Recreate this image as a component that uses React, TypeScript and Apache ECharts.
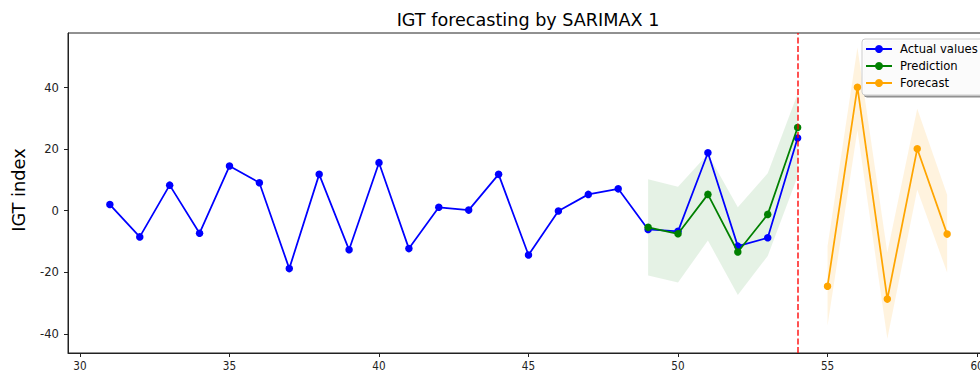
import { useEffect, useRef } from "react";
import * as echarts from "echarts";

// ---- data ----
const xActual = [31, 32, 33, 34, 35, 36, 37, 38, 39, 40, 41, 42, 43, 44, 45, 46, 47, 48, 49, 50, 51, 52, 53, 54];
const actualValues = [2.0, -8.5, 8.3, -7.3, 14.5, 9.1, -18.8, 11.8, -12.7, 15.6, -12.3, 1.1, 0.2, 11.8, -14.4, -0.1, 5.3, 7.1, -6.1, -6.7, 18.8, -11.5, -8.8, 23.6];

const xPred = [49, 50, 51, 52, 53, 54];
const predValues = [-5.4, -7.5, 5.3, -13.4, -1.2, 27.0];
const predLower = [-21.0, -23.3, -9.7, -27.4, -14.7, 11.1];
const predUpper = [10.2, 7.8, 18.4, 1.1, 12.2, 38.0];

const xForecast = [55, 56, 57, 58, 59];
const forecastValues = [-24.5, 40.1, -28.7, 20.1, -7.6];
const forecastLower = [-37.3, 26.1, -41.6, 6.8, -20.1];
const forecastUpper = [-11.5, 53.0, -13.6, 33.1, 5.2];

const xTicks = [30, 35, 40, 45, 50, 55, 60];
const yTicks = [-40, -20, 0, 20, 40];

const FONT = "DejaVu Sans";

function bandSeries(xs: number[], lo: number[], hi: number[], color: string) {
  return {
    type: "custom",
    silent: true,
    clip: true,
    z: 1,
    data: xs.map((x, i) => [x, lo[i], hi[i]]),
    encode: { x: 0, y: [1, 2] },
    renderItem: (params: any, api: any) => {
      if (params.dataIndex !== 0) return null;
      const upper = xs.map((x, i) => api.coord([x, hi[i]]));
      const lower = xs.map((x, i) => api.coord([x, lo[i]])).reverse();
      return {
        type: "polygon",
        shape: { points: [...upper, ...lower] },
        style: { fill: color },
      };
    },
  };
}

function lineSeries(name: string, xs: number[], ys: number[], color: string, z: number) {
  return {
    name,
    type: "line",
    z,
    data: xs.map((x, i) => [x, ys[i]]),
    symbol: "circle",
    symbolSize: 7.5,
    showSymbol: true,
    lineStyle: { color, width: 1.75 },
    itemStyle: { color },
    emphasis: { disabled: true },
  };
}

export default function App() {
  const ref = useRef<HTMLDivElement>(null);
  useEffect(() => {
    document.body.style.margin = "0";
    const chart = echarts.init(ref.current!, null, { renderer: "svg" });
    const actual = lineSeries("Actual values", xActual, actualValues, "#0000ff", 3) as any;
    actual.markLine = {
      silent: true,
      symbol: ["none", "none"],
      label: { show: false },
      lineStyle: { color: "#ff0000", type: [6, 2.6], width: 1.6, opacity: 0.85 },
      data: [{ xAxis: xActual[xActual.length - 1] }],
      z: 10,
    };
    const option: any = {
      animation: false,
      textStyle: { fontFamily: FONT },
      grid: {
        left: 68,
        top: 33,
        right: -9,
        bottom: 21,
        outerBoundsMode: "none",
        containLabel: false,
        show: true,
        borderColor: "#222",
        borderWidth: 1,
        backgroundColor: "transparent",
      },
      graphic: [
        {
          type: "text",
          x: 528,
          y: 19.5,
          style: {
            text: "IGT forecasting by SARIMAX 1",
            font: `17.6px "${FONT}"`,
            fill: "#000",
            textAlign: "center",
            textVerticalAlign: "middle",
          },
        },
        {
          type: "text",
          x: 18.7,
          y: 190,
          rotation: Math.PI / 2,
          style: {
            text: "IGT index",
            font: `17.8px "${FONT}"`,
            fill: "#000",
            textAlign: "center",
            textVerticalAlign: "middle",
          },
        },
      ],
      xAxis: {
        type: "value",
        min: 29.6,
        max: 60.4,
        axisLine: { show: true, onZero: false, lineStyle: { color: "#222" } },
        axisTick: { show: true, length: 4, customValues: xTicks, lineStyle: { color: "#222" } },
        axisLabel: {
          customValues: xTicks,
          margin: 7,
          fontSize: 11.6,
          color: "#222",
          fontFamily: "DejaVu Sans Condensed, DejaVu Sans",
        },
        splitLine: { show: false },
      },
      yAxis: {
        type: "value",
        min: -46.2,
        max: 57.7,
        axisLine: { show: true, onZero: false, lineStyle: { color: "#222" } },
        axisTick: { show: true, length: 4, customValues: yTicks, lineStyle: { color: "#222" } },
        axisLabel: { customValues: yTicks, margin: 9, fontSize: 11.6, color: "#222", fontFamily: FONT },
        splitLine: { show: false },
      },
      legend: {
        orient: "vertical",
        left: 862,
        top: 39,
        padding: [4, 6, 6, 3],
        itemWidth: 26,
        itemHeight: 10,
        itemGap: 5,
        backgroundColor: "rgba(255,255,255,0.9)",
        borderColor: "#cccccc",
        borderWidth: 1,
        borderRadius: 3,
        shadowColor: "rgba(0,0,0,0.45)",
        shadowOffsetX: 2,
        shadowOffsetY: 2,
        shadowBlur: 0,
        textStyle: { fontSize: 11.6, lineHeight: 11, color: "#000", fontFamily: FONT, padding: [0, 0, 0, 3] },
        data: ["Actual values", "Prediction", "Forecast"],
        selectedMode: false,
      },
      series: [
        bandSeries(xPred, predLower, predUpper, "rgba(0,128,0,0.1)"),
        bandSeries(xForecast, forecastLower, forecastUpper, "rgba(255,165,0,0.13)"),
        actual,
        lineSeries("Prediction", xPred, predValues, "#008000", 4),
        lineSeries("Forecast", xForecast, forecastValues, "#ffa500", 4),
      ],
    };
    chart.setOption(option);
    return () => chart.dispose();
  }, []);
  return <div ref={ref} style={{ width: 980, height: 374 }} />;
}
